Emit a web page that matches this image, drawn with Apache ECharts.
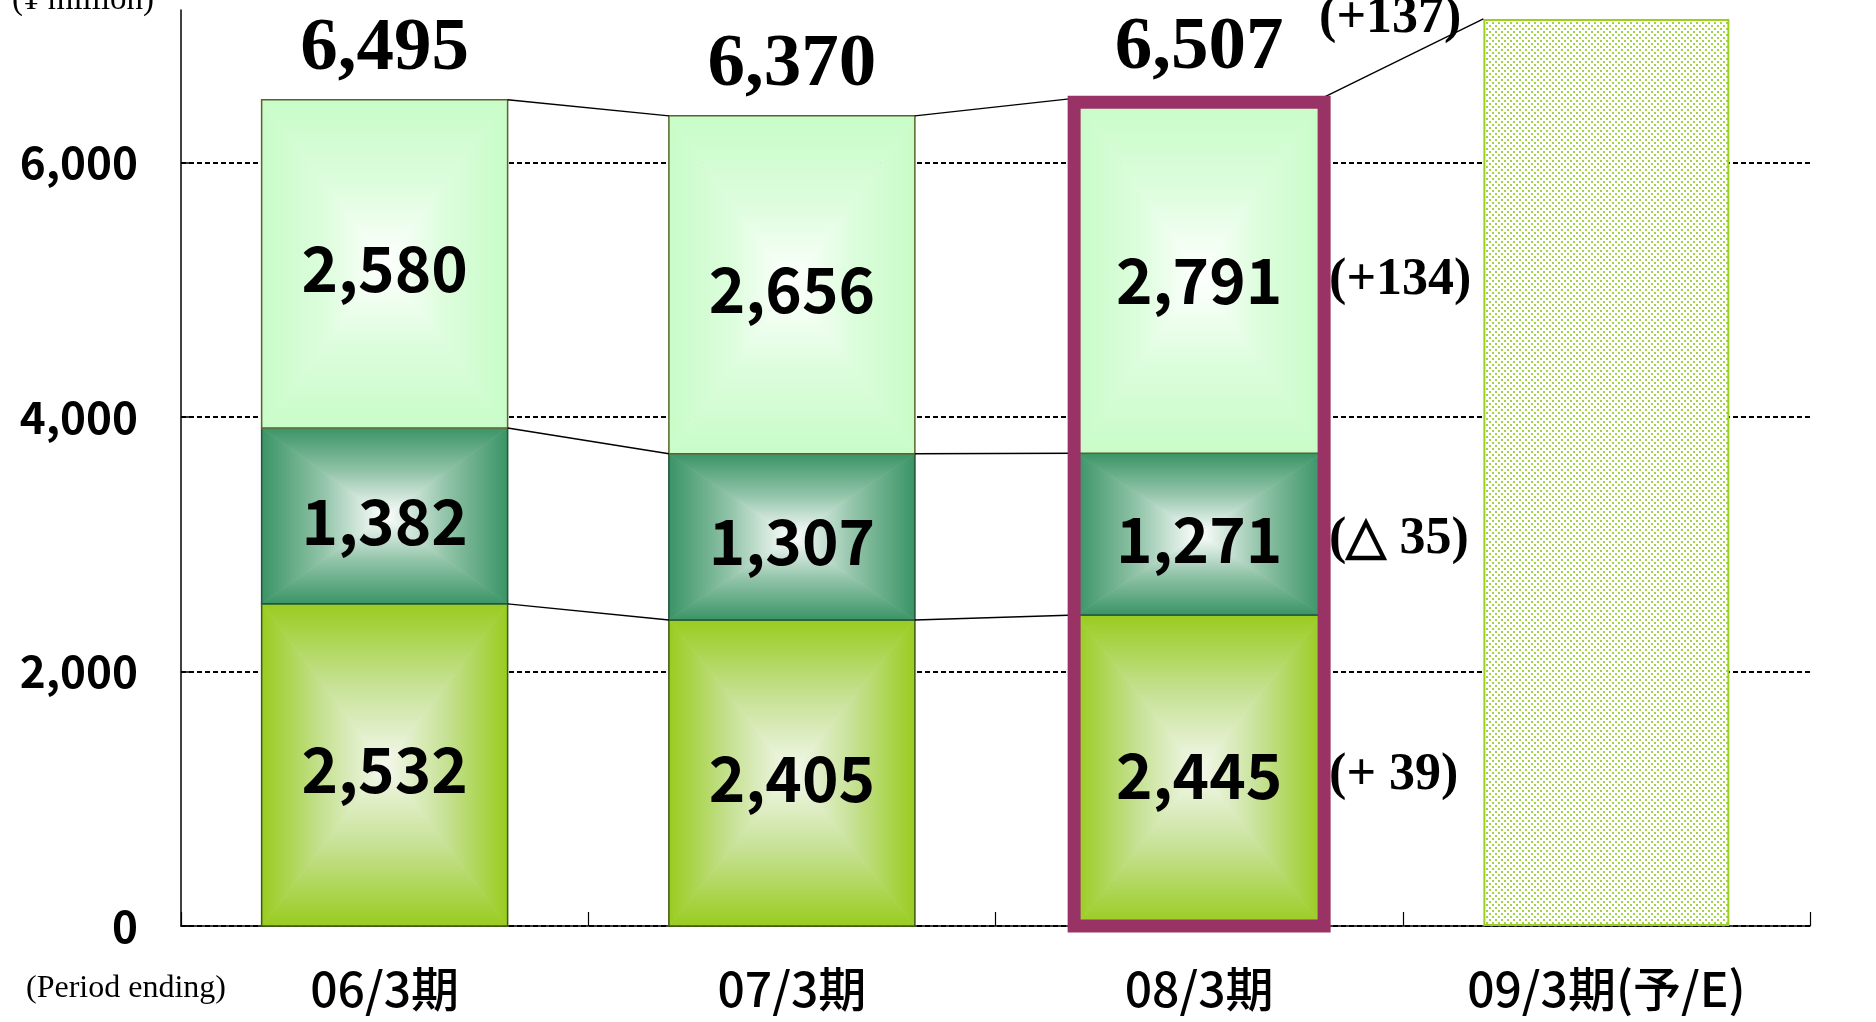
<!DOCTYPE html>
<html><head><meta charset="utf-8">
<script src="https://cdn.jsdelivr.net/npm/echarts@6/dist/echarts.min.js"></script>
<style>html,body{margin:0;padding:0;background:#fff}#chart{width:1876px;height:1022px}</style>
</head><body><div id="chart"></div>
<script>
// ---------- data ----------
const categories = ['06/3期', '07/3期', '08/3期', '09/3期(予/E)'];
const lowerSeg  = [2532, 2405, 2445, null];
const middleSeg = [1382, 1307, 1271, null];
const upperSeg  = [2580, 2656, 2791, null];
const totals    = [6495, 6370, 6507, null];
const forecast  = [null, null, null, 7130];
const changeLabels08 = ['(+ 39)', '(△ 35)', '(+134)'];
const totalChange08 = '(+137)';
const highlightIndex = 2;
const yTicks = [0, 2000, 4000, 6000];
const yMax = 7200;

const segments = [lowerSeg, middleSeg, upperSeg];

// ---------- styles ----------
const BAR_RATIO = 0.604;
const segStyles = [
  {edge: '#99cc1f', mid: '#c6e194', center: '#f4f8ee', stroke: '#3e5a16'},
  {edge: '#3a9466', mid: '#92c4a9', center: '#ffffff', stroke: '#24553a'},
  {edge: '#c8fcc8', mid: '#dcfddc', center: '#ffffff', stroke: '#5a6428'}
];
const fmt = v => v.toLocaleString('en-US');
const SANS = '"Noto Sans CJK JP"';
const SERIF = '"Liberation Serif"';

function lg(x, y, x2, y2, s) {
  return new echarts.graphic.LinearGradient(x, y, x2, y2, [
    {offset: 0, color: s.edge}, {offset: 0.5, color: s.mid}, {offset: 1, color: s.center}
  ], true);
}
function stackTop(c, lvl) {
  let v = 0;
  for (let k = 0; k <= lvl; k++) v += segments[k][c];
  return v;
}

function renderStack(params, api) {
  const c = api.value(0), lvl = api.value(1);
  const base = lvl > 0 ? stackTop(c, lvl - 1) : 0;
  const top = stackTop(c, lvl);
  const pT = api.coord([c, top]), pB = api.coord([c, base]);
  const bw = api.size([1, 0])[0] * BAR_RATIO;
  const x0 = pT[0] - bw / 2, x1 = pT[0] + bw / 2, y0 = pT[1], y1 = pB[1];
  const cx = pT[0], cy = (y0 + y1) / 2;
  const s = segStyles[lvl];
  const tri = (pts, g) => ({type: 'polygon', shape: {points: pts}, style: {fill: g, stroke: g, lineWidth: 0.8}});
  return {type: 'group', children: [
    tri([[x0, y0], [x1, y0], [cx, cy]], lg(cx, y0, cx, cy, s)),
    tri([[x0, y1], [x1, y1], [cx, cy]], lg(cx, y1, cx, cy, s)),
    tri([[x0, y0], [x0, y1], [cx, cy]], lg(x0, cy, cx, cy, s)),
    tri([[x1, y0], [x1, y1], [cx, cy]], lg(x1, cy, cx, cy, s)),
    {type: 'rect', shape: {x: x0, y: y0, width: bw, height: y1 - y0},
     style: {fill: 'none', stroke: s.stroke, lineWidth: 1.5}},
    {type: 'text', style: {text: fmt(segments[lvl][c]), x: cx, y: cy + 5, align: 'center',
      verticalAlign: 'middle', font: 'bold 62px ' + SANS, fill: '#000'}}
  ]};
}

function renderTotals(params, api) {
  const c = api.value(0);
  const p = api.coord([c, stackTop(c, 2)]);
  return {type: 'text', style: {text: fmt(totals[c]), x: p[0], y: p[1] - 50, align: 'center',
    verticalAlign: 'middle', font: 'bold 75px ' + SERIF, fill: '#000'}};
}

function renderConnectors(params, api) {
  const c = api.value(0), n = c + 1;
  const bw = api.size([1, 0])[0] * BAR_RATIO;
  const children = [];
  const line = (v1, v2) => {
    const a = api.coord([c, v1]), b = api.coord([n, v2]);
    children.push({type: 'line', shape: {x1: a[0] + bw / 2, y1: a[1], x2: b[0] - bw / 2, y2: b[1]},
      style: {stroke: '#000', lineWidth: 1.4}});
  };
  if (segments[0][n] != null) {
    for (let k = 0; k < 3; k++) line(stackTop(c, k), stackTop(n, k));
  } else if (forecast[n] != null) {
    line(stackTop(c, 2), forecast[n]);
  }
  return {type: 'group', children};
}

function renderFrame(params, api) {
  const c = api.value(0);
  const pT = api.coord([c, stackTop(c, 2)]), pB = api.coord([c, 0]);
  const bw = api.size([1, 0])[0] * BAR_RATIO;
  return {type: 'rect', shape: {x: pT[0] - bw / 2 - 2, y: pT[1] + 4, width: bw + 4, height: pB[1] - pT[1] - 4},
    style: {fill: 'none', stroke: '#993366', lineWidth: 13}};
}

function renderChanges(params, api) {
  const c = api.value(0), lvl = api.value(1);
  const bw = api.size([1, 0])[0] * BAR_RATIO;
  if (lvl < 3) {
    const base = lvl > 0 ? stackTop(c, lvl - 1) : 0;
    const pT = api.coord([c, stackTop(c, lvl)]), pB = api.coord([c, base]);
    return {type: 'text', style: {text: changeLabels08[lvl], x: pT[0] + bw / 2 + 7, y: (pT[1] + pB[1]) / 2 + 5,
      align: 'left', verticalAlign: 'middle', font: 'bold 52px ' + SERIF, fill: '#000'}};
  }
  const p = api.coord([c, stackTop(c, 2)]);
  return {type: 'text', style: {text: totalChange08, x: p[0] + bw / 2 - 3, y: p[1] - 80,
    align: 'left', verticalAlign: 'middle', font: 'bold 52px ' + SERIF, fill: '#000'}};
}

// dotted fill for the forecast bar
const pat = document.createElement('canvas');
pat.width = 6; pat.height = 6;
const pg = pat.getContext('2d');
pg.fillStyle = '#ffffff'; pg.fillRect(0, 0, 6, 6);
pg.fillStyle = '#a2d246'; pg.fillRect(1, 1, 2, 2); pg.fillRect(4, 4, 2, 2);

// ---------- data items for custom series ----------
const stackItems = [];
categories.forEach((_, c) => segments.forEach((seg, lvl) => { if (seg[c] != null) stackItems.push([c, lvl]); }));
const totalItems = [];
totals.forEach((t, c) => { if (t != null) totalItems.push([c, 0]); });
const connItems = [];
for (let c = 0; c < categories.length - 1; c++) if (totals[c] != null) connItems.push([c, 0]);
const changeItems = [[highlightIndex, 0], [highlightIndex, 1], [highlightIndex, 2], [highlightIndex, 3]];

const chart = echarts.init(document.getElementById('chart'), null, {renderer: 'canvas'});
chart.setOption({
  animation: false,
  backgroundColor: '#ffffff',
  grid: {left: 181, right: 66, top: 10, bottom: 96, containLabel: false},
  xAxis: {
    type: 'category', data: categories,
    axisLine: {lineStyle: {color: '#000', width: 1.5}},
    axisTick: {show: true, inside: true, length: 14, lineStyle: {color: '#000', width: 1.2}},
    axisLabel: {margin: 39, fontSize: 48, fontWeight: 500, color: '#000', fontFamily: SANS},
    splitLine: {show: false}
  },
  yAxis: {
    type: 'value', min: 0, max: yMax, interval: 2000,
    axisLine: {show: true, lineStyle: {color: '#000', width: 1.5}},
    axisTick: {show: true, inside: true, length: 12, customValues: yTicks, lineStyle: {color: '#000', width: 1.5}},
    axisLabel: {customValues: yTicks, margin: 43, fontSize: 44, fontWeight: 'bold', color: '#000',
      fontFamily: SANS, formatter: v => fmt(v)},
    splitLine: {show: true, lineStyle: {color: '#000', type: [5, 3], width: 2}}
  },
  graphic: [
    {type: 'text', left: 26, top: 973, style: {text: '(Period ending)', font: '32px ' + SERIF, fill: '#000'}},
    {type: 'text', left: 12, top: -16, style: {text: '(¥ million)', font: '33px ' + SERIF, fill: '#000'}}
  ],
  series: [
    {type: 'bar', name: 'forecast', data: forecast, barWidth: (BAR_RATIO * 100) + '%', z: 2,
     itemStyle: {color: {image: pat, repeat: 'repeat'}, borderColor: '#9ccf1f', borderWidth: 2}},
    {type: 'custom', name: 'stack', data: stackItems, renderItem: renderStack, encode: {x: 0, y: 1}, z: 2, clip: false},
    {type: 'custom', name: 'connectors', data: connItems, renderItem: renderConnectors, encode: {x: 0, y: 1}, z: 3, clip: false},
    {type: 'custom', name: 'frame', data: [[highlightIndex, 0]], renderItem: renderFrame, encode: {x: 0, y: 1}, z: 4, clip: false},
    {type: 'custom', name: 'totals', data: totalItems, renderItem: renderTotals, encode: {x: 0, y: 1}, z: 5, clip: false},
    {type: 'custom', name: 'changes', data: changeItems, renderItem: renderChanges, encode: {x: 0, y: 1}, z: 5, clip: false}
  ]
});
</script>
</body></html>
